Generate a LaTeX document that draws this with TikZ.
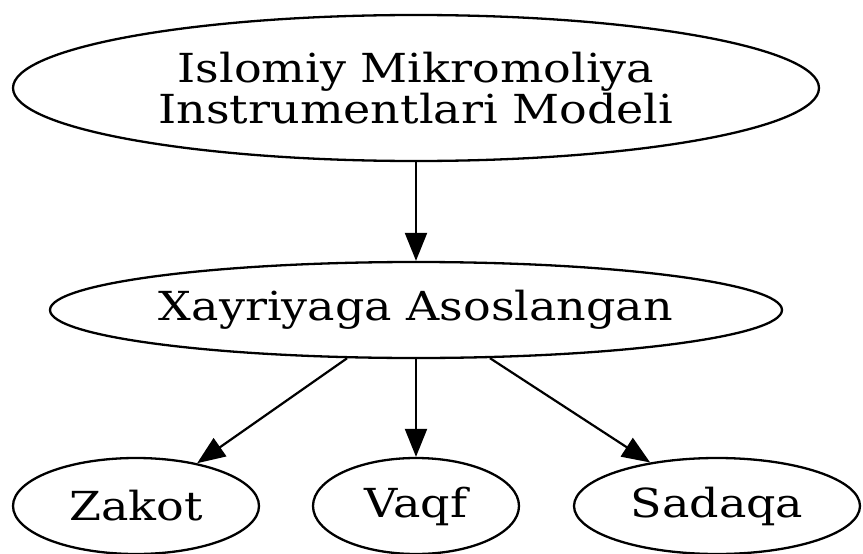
\documentclass[tikz,border=0pt]{standalone}
\usepackage{fontspec}
\setmainfont{DejaVu Serif}[FakeStretch=1.15]
\usetikzlibrary{shapes.geometric,arrows.meta}
\begin{document}
\begin{tikzpicture}[x=1pt,y=-1pt,
  nd/.style={ellipse,draw,line width=2.3pt,inner sep=0pt,align=center,
    font=\fontsize{40}{41}\selectfont},
  edge/.style={line width=2.2pt,-{Triangle[length=28pt,width=22pt]}}]
\useasboundingbox (0,0) rectangle (863,554);
\node[nd,minimum width=806pt,minimum height=146pt] (top) at (416,88) {Islomiy Mikromoliya\\Instrumentlari Modeli};
\node[nd,minimum width=732pt,minimum height=96pt] (mid) at (416,310) {Xayriyaga Asoslangan};
\node[nd,minimum width=246pt,minimum height=96pt] (zak) at (136,506) {Zakot};
\node[nd,minimum width=206pt,minimum height=96pt] (vaq) at (416,506) {Vaqf};
\node[nd,minimum width=286pt,minimum height=96pt] (sad) at (717,506) {Sadaqa};
\draw[edge] (top) -- (mid);
\draw[edge] (mid) -- (zak);
\draw[edge] (mid.south) -- (vaq);
\draw[edge] (mid) -- (sad);
\end{tikzpicture}
\end{document}
